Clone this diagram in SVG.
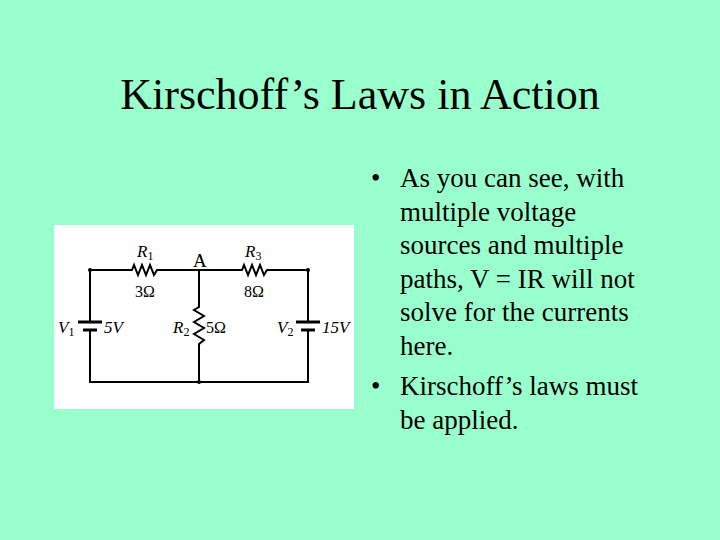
<svg xmlns="http://www.w3.org/2000/svg" width="720" height="540" viewBox="0 0 720 540">
<style>
.t{font-family:"Liberation Serif",serif;fill:#000}
.w{stroke:#000;stroke-width:2;fill:none}
.c{font-family:"Liberation Serif",serif;font-size:17px;font-style:italic}
.n{font-family:"Liberation Serif",serif;font-size:16px}
</style>
<rect width="720" height="540" fill="#99ffcc"/>
<text class="t" x="360" y="109" font-size="44" text-anchor="middle">Kirschoff’s Laws in Action</text>
<g id="circuit">
<rect x="54" y="225" width="300" height="184" fill="#fff"/>
<g class="w">
<path d="M90 270H132l2-5 4 10 4-10 4 10 4-10 4 10 3-5H242l2-5 4 10 4-10 4 10 4-10 4 10 3-5H308V322M308 330V382H90V330M90 322V270"/>
<path d="M199 270V307l-5 3 10 6-10 6 10 6-10 6 10 6-5 4V382"/>
<path d="M78 322H102M83 330H97M296 322H320M301 330H315" stroke-width="3"/>
</g>
<circle cx="90" cy="270" r="2"/><circle cx="308" cy="270" r="2"/><circle cx="199" cy="382" r="2"/>
<text class="c" x="137" y="257">R<tspan font-size="12" dy="3" font-style="normal">1</tspan></text>
<text class="n" x="135" y="297">3Ω</text>
<text class="t" x="193" y="267" font-size="19">A</text>
<text class="c" x="245" y="257">R<tspan font-size="12" dy="3" font-style="normal">3</tspan></text>
<text class="n" x="244" y="297">8Ω</text>
<text class="c" x="58" y="333">V<tspan font-size="12" dy="3" font-style="normal">1</tspan></text>
<text class="c" x="104" y="333">5V</text>
<text class="c" x="173" y="333">R<tspan font-size="12" dy="3" font-style="normal">2</tspan></text>
<text class="n" x="206" y="333">5Ω</text>
<text class="c" x="277" y="333">V<tspan font-size="12" dy="3" font-style="normal">2</tspan></text>
<text class="c" x="322" y="333">15V</text>
</g>
<g class="t" font-size="27">
<text x="371" y="187">•</text><text x="400" y="187">As you can see, with</text>
<text x="400" y="221">multiple voltage</text>
<text x="400" y="254">sources and multiple</text>
<text x="400" y="288">paths, V = IR will not</text>
<text x="400" y="321">solve for the currents</text>
<text x="400" y="355">here.</text>
<text x="371" y="395">•</text><text x="400" y="395">Kirschoff’s laws must</text>
<text x="400" y="429">be applied.</text>
</g>
</svg>
